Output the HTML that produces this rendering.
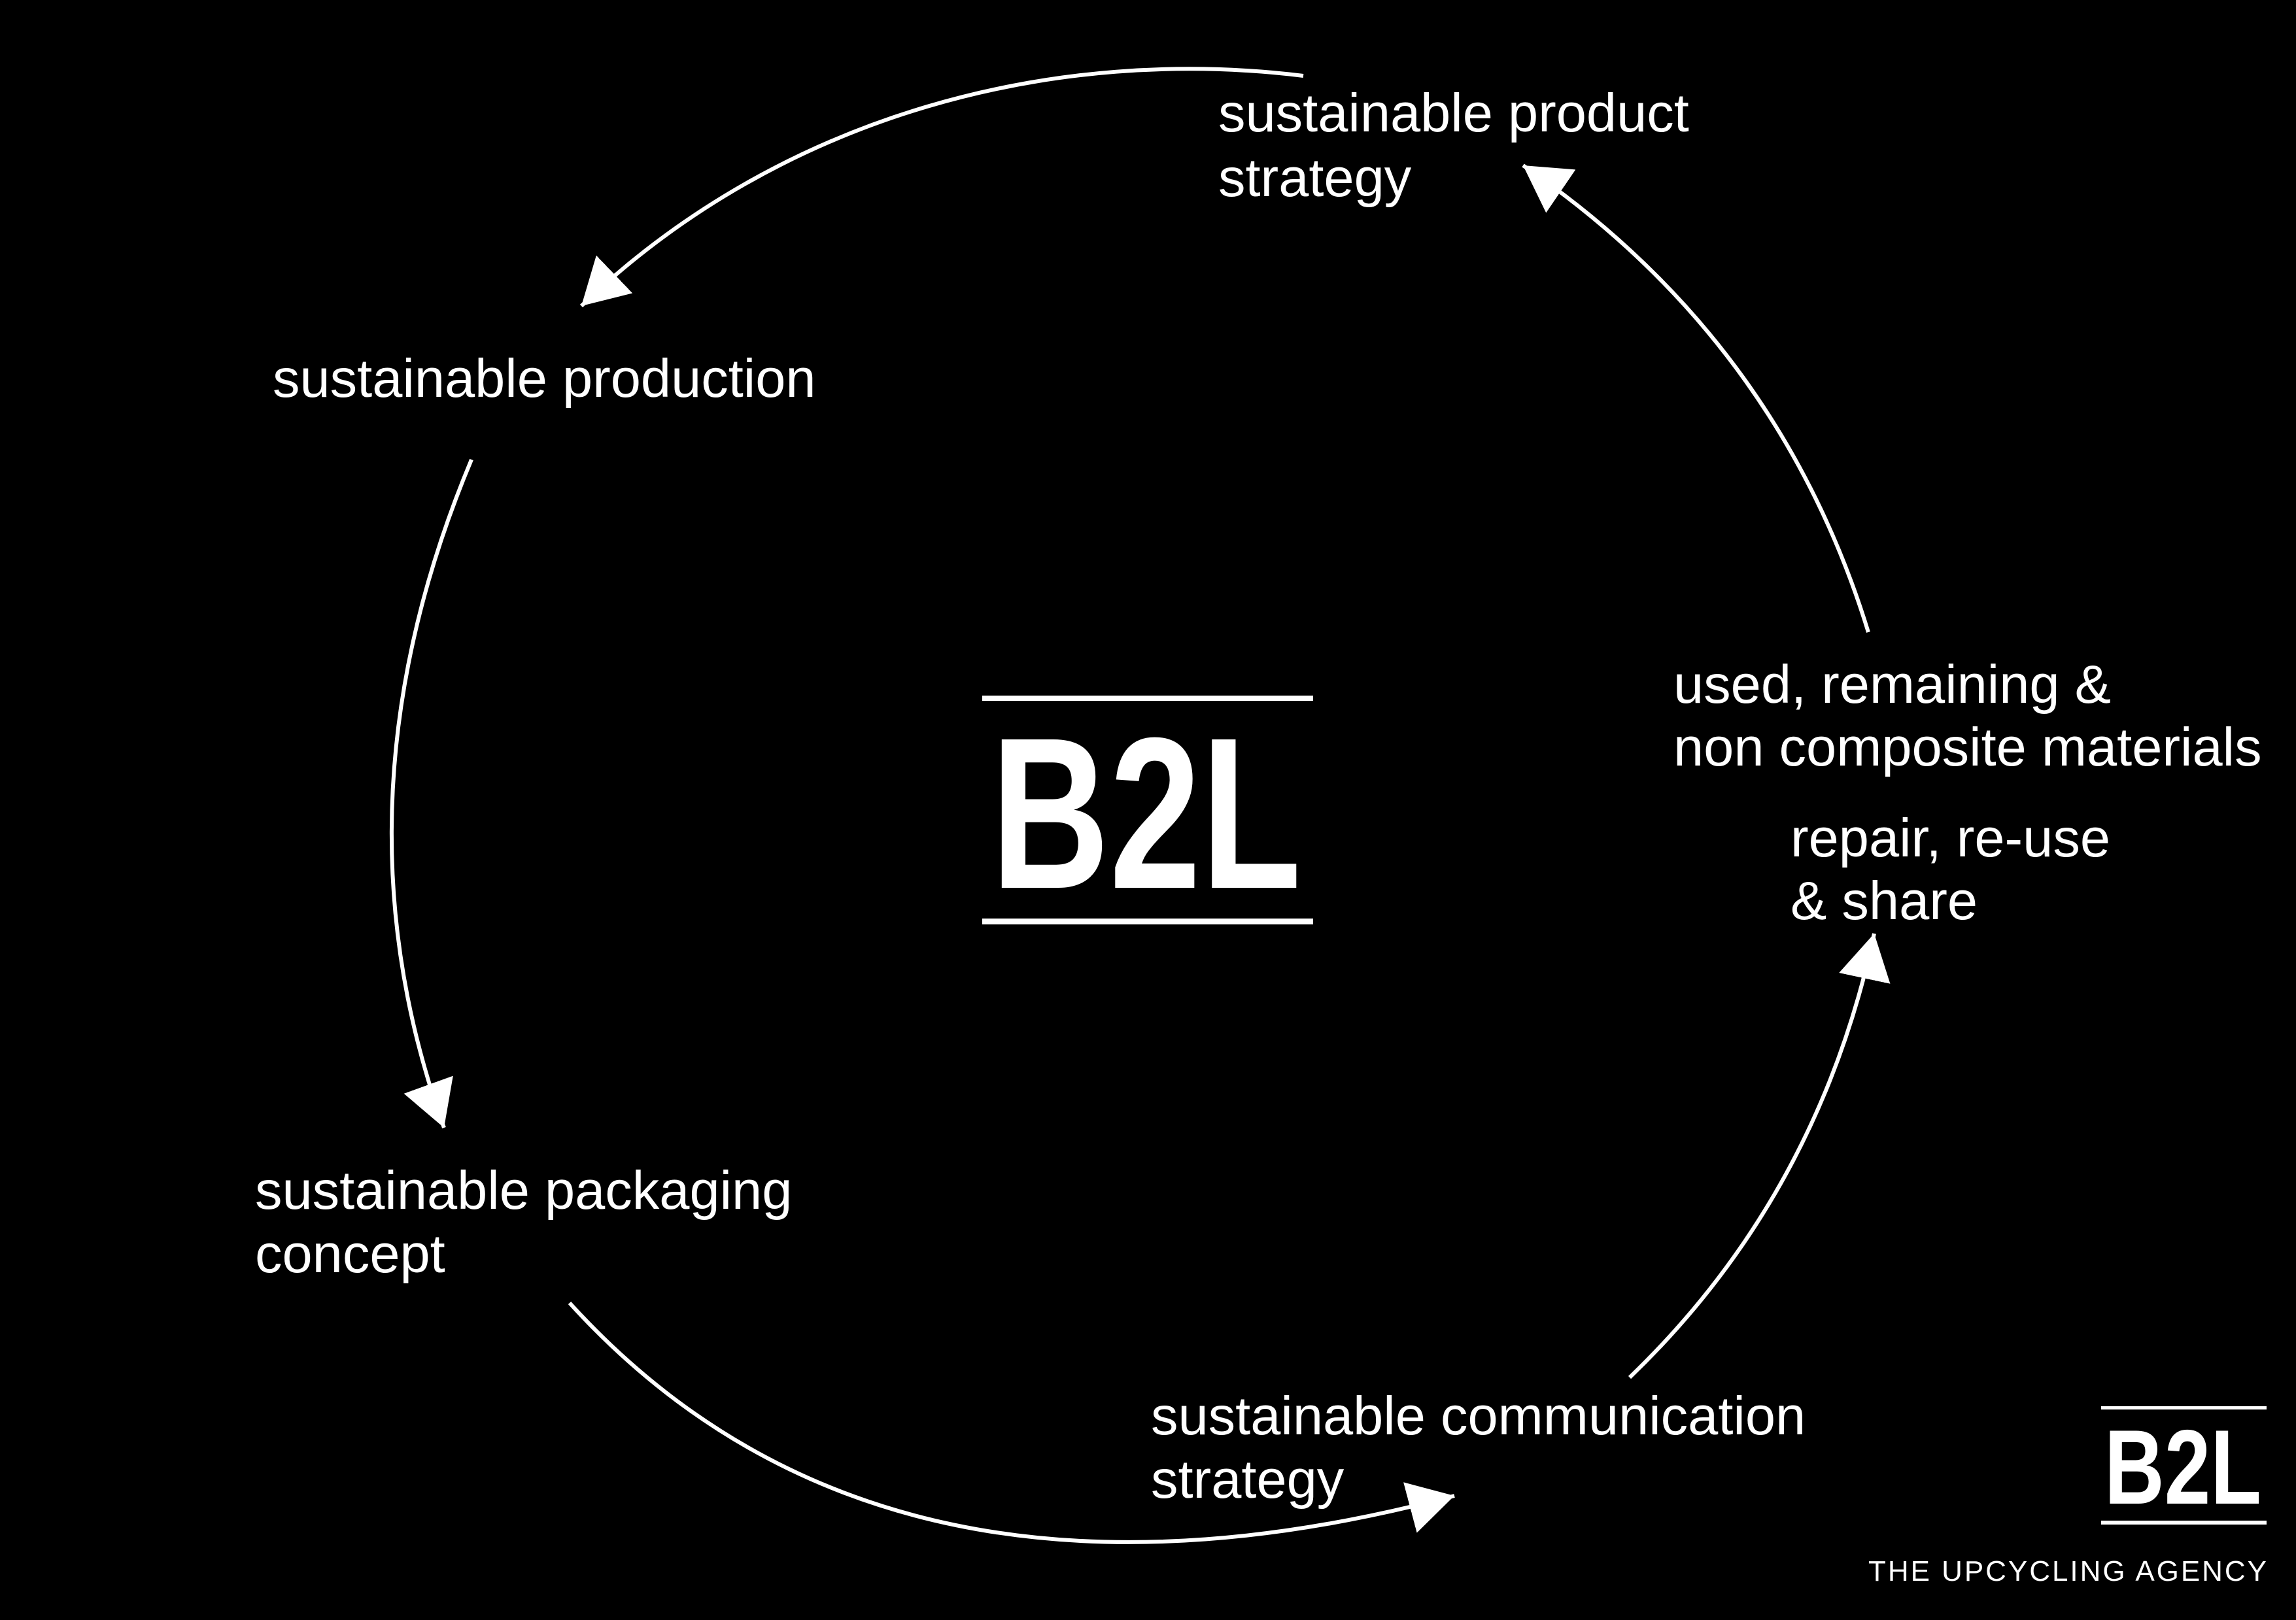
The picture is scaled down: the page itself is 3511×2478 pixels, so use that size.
<!DOCTYPE html>
<html><head><meta charset="utf-8"><style>
html,body{margin:0;padding:0;background:#000;}
body{width:3511px;height:2478px;overflow:hidden;}
svg{display:block}
text{font-family:"Liberation Sans",Arial,sans-serif;fill:#fff}
</style></head><body>
<svg width="3511" height="2478" viewBox="0 0 3511 2478" xmlns="http://www.w3.org/2000/svg">
<defs>
<marker id="a" markerUnits="userSpaceOnUse" markerWidth="80" markerHeight="80" refX="70" refY="40" orient="auto">
<path d="M0,0 L70,40 L0,80 Z" fill="#fff"/>
</marker>
</defs>
<rect width="3511" height="2478" fill="#000"/>
<g fill="none" stroke="#fff" stroke-width="6">
<path d="M1993,116 C1620,70 1200,170 889,468" marker-end="url(#a)"/>
<path d="M721,703 Q500,1230 679,1725" marker-end="url(#a)"/>
<path d="M871,1993 Q1350,2520 2224,2288" marker-end="url(#a)"/>
<path d="M2492,2107 Q2780,1830 2866,1428" marker-end="url(#a)"/>
<path d="M2857,967 Q2720,520 2329,253" marker-end="url(#a)"/>
</g>
<g font-size="83">
<text x="1863" y="201">sustainable product</text>
<text x="1863" y="300">strategy</text>
<text x="417" y="607">sustainable production</text>
<text x="390" y="1849">sustainable packaging</text>
<text x="390" y="1946">concept</text>
<text x="1760" y="2194">sustainable communication</text>
<text x="1760" y="2291">strategy</text>
<text x="2559" y="1075">used, remaining &amp;</text>
<text x="2559" y="1171">non composite materials</text>
<text x="2738" y="1310">repair, re-use</text>
<text x="2738" y="1406">&amp; share</text>
</g>
<rect x="1502" y="1064" width="506" height="8" fill="#fff"/>
<rect x="1502" y="1405" width="506" height="9" fill="#fff"/>
<text x="1515" y="1358" font-size="330" font-weight="bold" textLength="475" lengthAdjust="spacingAndGlyphs">B2L</text>
<rect x="3213" y="2151" width="253" height="5" fill="#fff"/>
<rect x="3213" y="2326" width="253" height="6" fill="#fff"/>
<text x="3218" y="2300" font-size="162" font-weight="bold" textLength="240" lengthAdjust="spacingAndGlyphs">B2L</text>
<text x="2857" y="2418" font-size="44" textLength="609" lengthAdjust="spacing">THE UPCYCLING AGENCY</text>
</svg>
</body></html>
